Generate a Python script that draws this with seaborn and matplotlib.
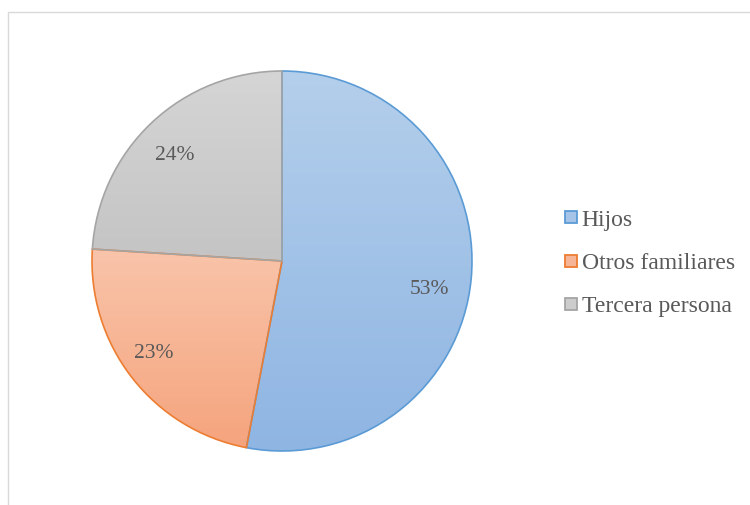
import numpy as np
import matplotlib
matplotlib.use("Agg")
import matplotlib.pyplot as plt
from matplotlib.colors import LinearSegmentedColormap
from matplotlib.lines import Line2D
from matplotlib.patches import Rectangle
import seaborn as sns

categories = ["Hijos", "Otros familiares", "Tercera persona"]
shares = [53, 23, 24]
pct_labels = ["53%", "23%", "24%"]

edge_colors = ["#5b9bd5", "#ed7d31", "#a5a5a5"]
grad_top = ["#b4cfeb", "#f9c4aa", "#d5d5d5"]
grad_bottom = ["#8fb5e3", "#f5a47d", "#c4c4c4"]
legend_fill = ["#a6c4e8", "#f7b597", "#cccccc"]

sns.set_theme(style="white")
plt.rcParams["font.family"] = ["Liberation Serif", "DejaVu Serif"]

fig = plt.figure(figsize=(7.5, 5.05), dpi=100)
fig.patch.set_facecolor("white")

# light chart-area frame
fig.patches.append(Rectangle((7.5 / 750, -0.2), 1.2, 1.2 - 11.5 / 505,
                             transform=fig.transFigure, fill=False,
                             edgecolor="#d9d9d9", linewidth=1.0, zorder=0))

ax = fig.add_axes([(282 - 190) / 750, (505 - 261 - 190) / 505, 380 / 750, 380 / 505])
ax.set_xlim(-1, 1)
ax.set_ylim(-1, 1)
ax.set_aspect("equal")
ax.axis("off")

wedges, _, autotexts = ax.pie(
    shares, startangle=90, counterclock=False, radius=1,
    colors=legend_fill, autopct="%1.0f%%", pctdistance=0.8,
    wedgeprops=dict(linewidth=1.2),
    textprops=dict(fontsize=15.5, color="#595959"),
)

grad = np.linspace(0, 1, 256).reshape(-1, 1)
for w, top, bot, ec in zip(wedges, grad_top, grad_bottom, edge_colors):
    w.set_facecolor("none")
    w.set_edgecolor(ec)
    w.set_zorder(3)
    ext = w.get_path().get_extents()
    cmap = LinearSegmentedColormap.from_list("g", [bot, top])
    im = ax.imshow(grad, cmap=cmap, aspect="auto", interpolation="bilinear",
                   extent=(ext.x0, ext.x1, ext.y0, ext.y1), origin="lower",
                   zorder=1)
    im.set_clip_path(w)

ax.set_xlim(-1, 1)
ax.set_ylim(-1, 1)

# label placement (angle in degrees, radial fraction)
label_pos = [(-10.8, 0.79), (-144.3, 0.83), (135.5, 0.79)]
for t, txt, (ang, rad) in zip(autotexts, pct_labels, label_pos):
    a = np.deg2rad(ang)
    t.set_text(txt)
    t.set_position((rad * np.cos(a), rad * np.sin(a)))
    t.set_zorder(5)

handles = [Line2D([0], [0], marker="s", linestyle="none", markersize=8.2,
                  markerfacecolor=f, markeredgecolor=e, markeredgewidth=1.3)
           for f, e in zip(legend_fill, edge_colors)]
leg = fig.legend(handles, categories, loc="center left",
                 bbox_to_anchor=(556 / 750, 1 - 263 / 505), frameon=False,
                 fontsize=17, handlelength=0.52, handletextpad=0.18,
                 labelspacing=0.92, borderaxespad=0, borderpad=0.38)
for t in leg.get_texts():
    t.set_color("#595959")

fig.savefig("out.png", dpi=100, facecolor="white")
